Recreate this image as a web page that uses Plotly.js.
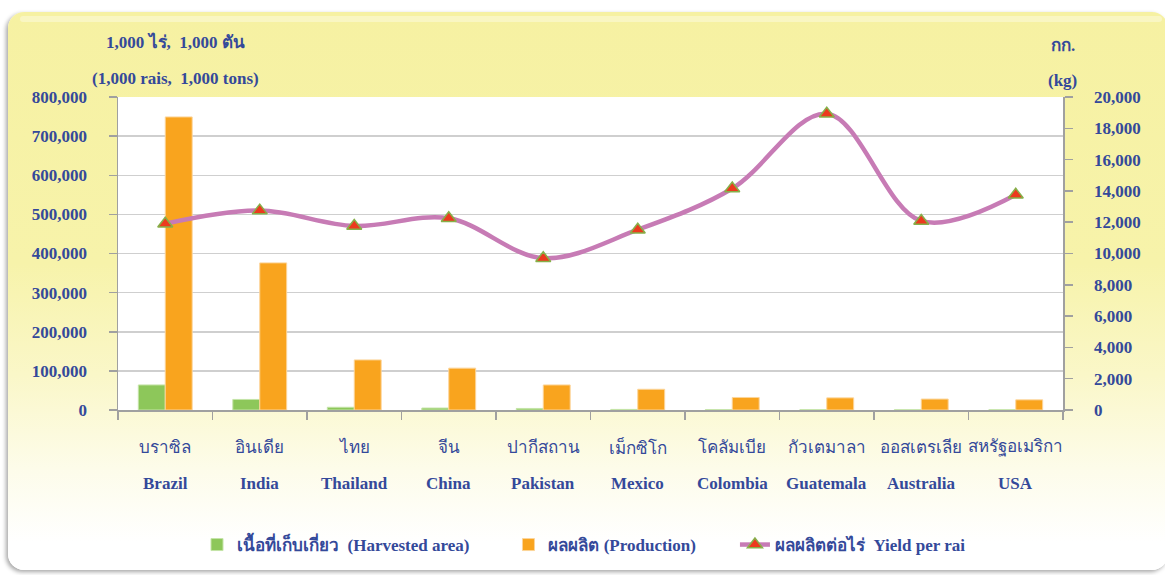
<!DOCTYPE html>
<html>
<head>
<meta charset="utf-8">
<script src="https://cdn.plot.ly/plotly-3.0.1.min.js"></script>
<style>
  html, body { margin: 0; padding: 0; background: #ffffff; width: 1165px; height: 575px; overflow: hidden; }
  #frame {
    position: absolute; left: 8px; top: 12px; width: 1160px; height: 558px;
    border-radius: 16px;
    background: linear-gradient(to bottom, #F6F1A2 0%, #F7F3AA 45%, #FAF7C8 65%, #FDFCEA 82%, #FFFFFF 95%);
    box-shadow: -2px 2px 4px rgba(0,0,0,0.35);
  }
  #frame:before {
    content: ""; position: absolute; left: 12px; right: 6px; top: 4px; height: 6px;
    border-radius: 6px; background: rgba(255,255,255,0.35);
  }
  #chart { position: absolute; left: 0; top: 0; width: 1165px; height: 575px; }
</style>
</head>
<body>
<div id="frame"></div>
<div id="chart"></div>
<script>
// ---- data ----
const categoriesThai = ["บราซิล", "อินเดีย", "ไทย", "จีน", "ปากีสถาน", "เม็กซิโก", "โคลัมเบีย", "กัวเตมาลา", "ออสเตรเลีย", "สหรัฐอเมริกา"];
const categoriesEng = ["Brazil", "India", "Thailand", "China", "Pakistan", "Mexico", "Colombia", "Guatemala", "Australia", "USA"];
const harvestedArea = [64000, 27000, 7000, 5000, 4000, 1500, 800, 700, 500, 500];
const production = [749000, 376000, 128000, 107000, 64000, 53000, 32000, 31000, 28000, 26000];
const yieldPerRai = [11900, 12740, 11760, 12250, 9700, 11520, 14150, 18930, 12080, 13750];
const seriesNames = ["เนื้อที่เก็บเกี่ยว  (Harvested area)", "ผลผลิต (Production)", "ผลผลิตต่อไร่  Yield per rai"];
const leftTitle = ["1,000 ไร่,  1,000 ตัน", "(1,000 rais,  1,000 tons)"];
const rightTitle = ["กก.", "(kg)"];

const txt = '#34499A';
const fam = '"Liberation Serif", "Times New Roman", serif';
const fs = 17;
const pad = '\u00a0'.repeat(8);

const traces = [
  {
    type: 'bar', x: categoriesEng, y: harvestedArea, name: seriesNames[0] + pad,
    marker: { color: '#8DC75A', line: { color: '#C5E4A8', width: 1 } }
  },
  {
    type: 'bar', x: categoriesEng, y: production, name: seriesNames[1] + pad,
    marker: { color: '#F9A41E', line: { color: '#FCD59A', width: 1 } }
  },
  {
    type: 'scatter', mode: 'lines+markers', x: categoriesEng, y: yieldPerRai, yaxis: 'y2',
    name: seriesNames[2],
    line: { color: '#C77BB5', width: 4.5, shape: 'spline', smoothing: 1 },
    marker: { symbol: 'triangle-up', size: 13, color: '#EC3A1E', line: { color: '#86B04A', width: 1.5 } }
  }
];

const annotations = [];
const y0 = 410, plotH = 313;
const py = (pix) => (y0 - pix) / plotH;
categoriesEng.forEach((c, i) => {
  annotations.push({ x: c, xref: 'x', yref: 'paper', y: py(447), text: categoriesThai[i], showarrow: false,
    font: { family: fam, size: 17, color: txt }, xanchor: 'center', yanchor: 'middle' });
  annotations.push({ x: c, xref: 'x', yref: 'paper', y: py(483), text: '<b>' + categoriesEng[i] + '</b>', showarrow: false,
    font: { family: fam, size: fs, color: txt }, xanchor: 'center', yanchor: 'middle' });
});
const plotL = 118, plotW = 945;
const px = (pix) => (pix - plotL) / plotW;
annotations.push({ xref: 'paper', yref: 'paper', x: px(175), y: py(42), text: '<b>' + leftTitle[0] + '</b>', showarrow: false,
  font: { family: fam, size: fs, color: txt }, xanchor: 'center', yanchor: 'middle' });
annotations.push({ xref: 'paper', yref: 'paper', x: px(175), y: py(78), text: '<b>' + leftTitle[1] + '</b>', showarrow: false,
  font: { family: fam, size: fs, color: txt }, xanchor: 'center', yanchor: 'middle' });
annotations.push({ xref: 'paper', yref: 'paper', x: px(1063), y: py(45), text: '<b>' + rightTitle[0] + '</b>', showarrow: false,
  font: { family: fam, size: fs, color: txt }, xanchor: 'center', yanchor: 'middle' });
annotations.push({ xref: 'paper', yref: 'paper', x: px(1062), y: py(80), text: '<b>' + rightTitle[1] + '</b>', showarrow: false,
  font: { family: fam, size: fs, color: txt }, xanchor: 'center', yanchor: 'middle' });

const layout = {
  width: 1165, height: 575,
  margin: { l: 118, r: 102, t: 97, b: 165, pad: 0 },
  paper_bgcolor: 'rgba(0,0,0,0)',
  plot_bgcolor: '#FFFFFF',
  barmode: 'group', bargap: 0.43, bargroupgap: 0,
  showlegend: true,
  legend: {
    orientation: 'h', x: px(584), xanchor: 'center', y: py(545), yanchor: 'middle',
    font: { family: fam, size: fs, color: txt, weight: 'bold' }, bgcolor: 'rgba(0,0,0,0)',
    traceorder: 'normal'
  },
  xaxis: {
    type: 'category', range: [-0.5, 9.5], showticklabels: false,
    ticks: 'outside', tickson: 'boundaries', ticklen: 8, tickcolor: '#A0A0A0', tickwidth: 1.5,
    showline: true, linecolor: '#A0A0A0', linewidth: 1.5, showgrid: false, zeroline: false
  },
  yaxis: {
    range: [0, 800000], dtick: 100000, tickformat: ',d',
    ticks: 'outside', ticklen: 8, tickcolor: '#A0A0A0', tickwidth: 1.5,
    showline: true, linecolor: '#A0A0A0', linewidth: 1.5,
    gridcolor: '#CFCFCF', gridwidth: 1.5, zeroline: false,
    ticklabelstandoff: 18,
    tickfont: { family: fam, size: fs, color: txt, weight: 'bold' }
  },
  yaxis2: {
    range: [0, 20000], dtick: 2000, tickformat: ',d', overlaying: 'y', side: 'right',
    ticks: 'outside', ticklen: 8, tickcolor: '#A0A0A0', tickwidth: 1.5,
    showline: true, linecolor: '#A0A0A0', linewidth: 1.5, showgrid: false, zeroline: false,
    ticklabelstandoff: 18,
    tickfont: { family: fam, size: fs, color: txt, weight: 'bold' }
  },
  annotations: annotations
};

Plotly.newPlot('chart', traces, layout, { displayModeBar: false, staticPlot: true });
</script>
</body>
</html>
